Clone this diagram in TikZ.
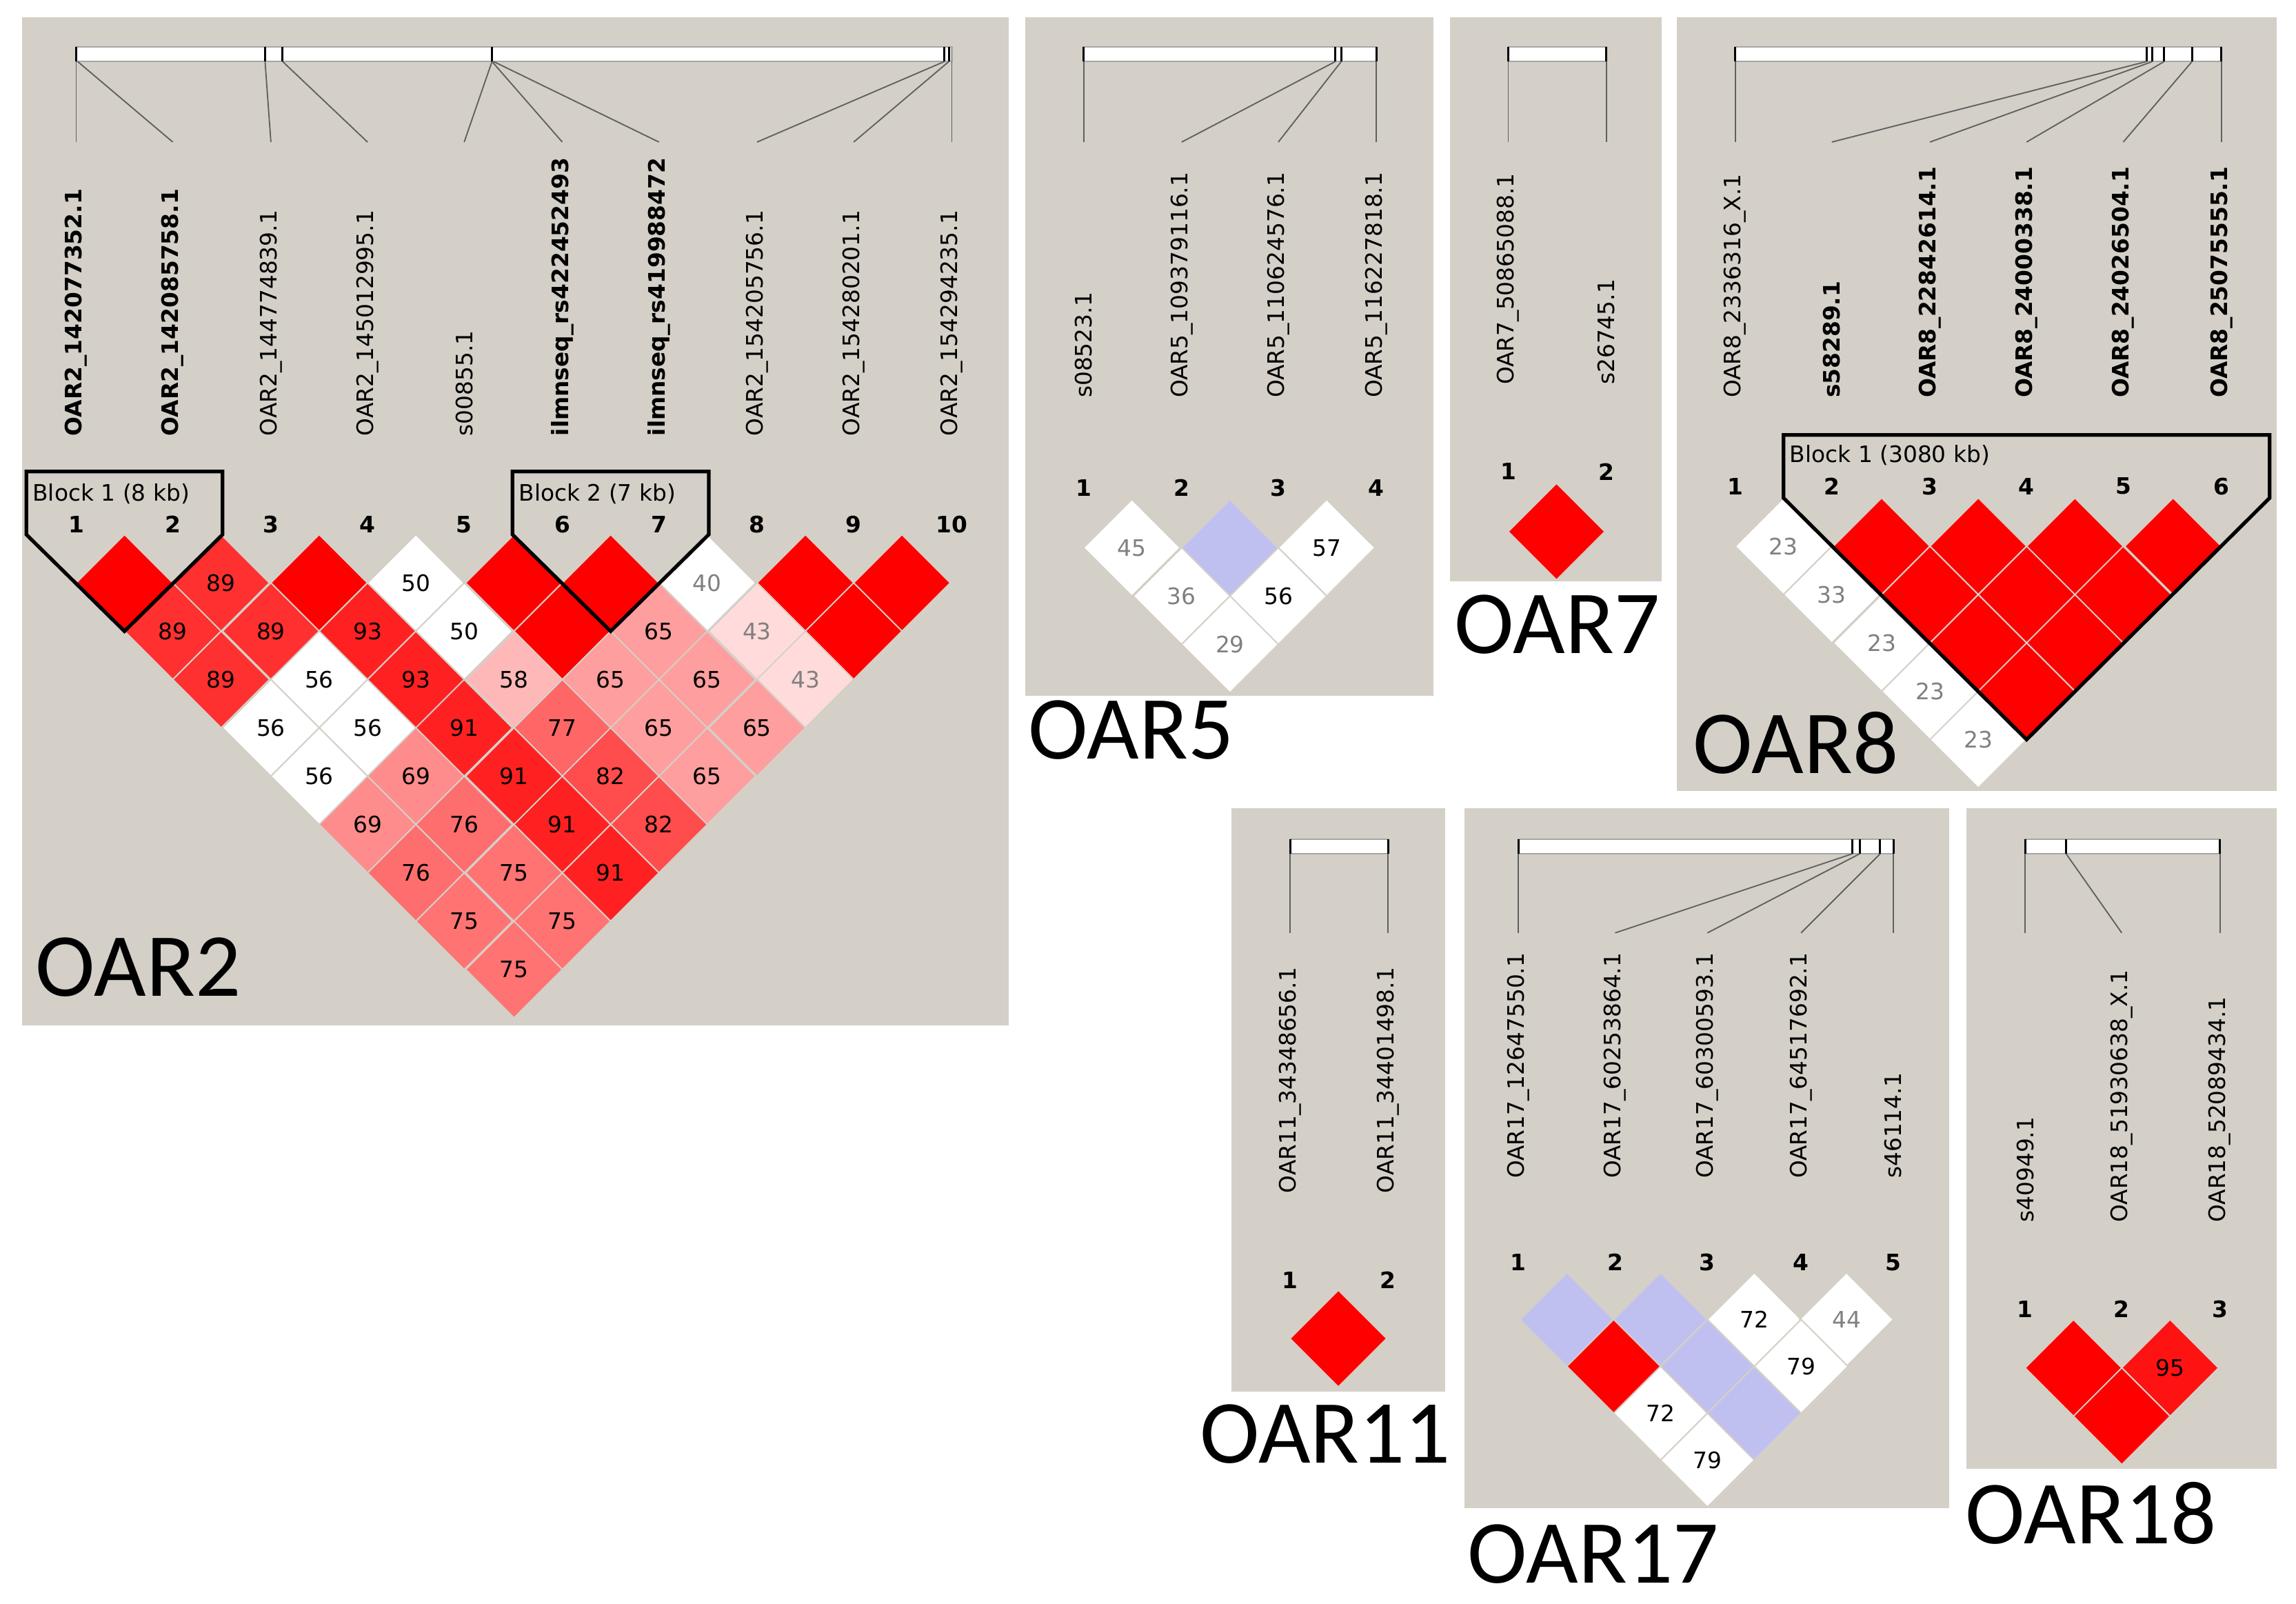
\documentclass[tikz,border=0pt]{standalone}
\usepackage{fontspec}
\setmainfont{DejaVu Sans}
\newfontfamily\carlitofont{Carlito}
\begin{document}
\definecolor{bg}{HTML}{D4D0C8}
\definecolor{blu}{HTML}{C0C0F0}
\definecolor{gtx}{HTML}{808080}
\tikzset{
 panel/.style={fill=bg,draw=none},
 bar/.style={fill=white,draw=gray!70,line width=0.6pt},
 div/.style={draw=black,line width=0.8pt},
 conn/.style={draw=gray!75!black,line width=0.5pt},
 mlab/.style={rotate=90,anchor=west,inner sep=0pt,font=\fontsize{8.8}{10}\selectfont},
 bmlab/.style={mlab,font=\fontsize{8.8}{10}\selectfont\bfseries},
 num/.style={font=\fontsize{8.8}{10}\selectfont\bfseries,inner sep=0pt},
 ctext/.style={font=\fontsize{8.8}{10}\selectfont,inner sep=0pt},
 blk/.style={draw=black,line width=1.4pt,line join=miter},
 pname/.style={font=\carlitofont\fontsize{35}{40}\selectfont,anchor=base west,inner sep=0pt},
}
\newcommand\ldc[6]{%
 \path[fill=#4,draw=bg,line width=0.5pt] (#1-#3,#2) -- (#1,#2-#3) -- (#1+#3,#2) -- (#1,#2+#3) -- cycle;
 \node[ctext,text=#6] at (#1,#2) {#5};}
\begin{tikzpicture}[x=0.02cm,y=-0.02cm]
\useasboundingbox (0,0) rectangle (1568,1095);
\fill[white] (0,0) rectangle (1568,1095);
% ================= OAR2
\path[panel] (15,12) rectangle (689,700);
\path[bar] (52,32) rectangle (650,42);
\foreach \p in {52,181,193,336,645,648} \draw[div] (\p,32) -- (\p,42);
\foreach \p/\x in {52/52,53/118,181/185,193/251,336/317,336/384,337/450,645/517,648/583,650/650}
 \draw[conn] (\p,42) -- (\x,97);
\node[bmlab] (a1) at (52,298) {OAR2\_142077352.1};
\node[bmlab] (a2) at (118,298) {OAR2\_142085758.1};
\node[mlab] (a3) at (185,298) {OAR2\_144774839.1};
\node[mlab] (a4) at (251,298) {OAR2\_145012995.1};
\node[mlab] (a5) at (317,298) {s00855.1};
\node[bmlab] (a6) at (384,298) {ilmnseq\_rs422452493};
\node[bmlab] (a7) at (450,298) {ilmnseq\_rs419988472};
\node[mlab] (a8) at (517,298) {OAR2\_154205756.1};
\node[mlab] (a9) at (583,298) {OAR2\_154280201.1};
\node[mlab] (a10) at (650,298) {OAR2\_154294235.1};
\foreach \i/\x in {1/52,2/118,3/185,4/251,5/317,6/384,7/450,8/517,9/583,10/650}
 \node[num] (an\i) at (\x,358) {\i};
\ldc{85}{398}{33}{red}{}{black}
\ldc{151}{398}{33}{red!81!white}{89}{black}
\ldc{218}{398}{33}{red}{}{black}
\ldc{284}{398}{33}{white}{50}{black}
\ldc{351}{398}{33}{red}{}{black}
\ldc{417}{398}{33}{red}{}{black}
\ldc{483}{398}{33}{white}{40}{gtx}
\ldc{550}{398}{33}{red}{}{black}
\ldc{616}{398}{33}{red}{}{black}
\ldc{118}{431}{33}{red!81!white}{89}{black}
\ldc{185}{431}{33}{red!81!white}{89}{black}
\ldc{251}{431}{33}{red!87!white}{93}{black}
\ldc{317}{431}{33}{white}{50}{black}
\ldc{384}{431}{33}{red}{}{black}
\ldc{450}{431}{33}{red!38!white}{65}{black}
\ldc{517}{431}{33}{red!14!white}{43}{gtx}
\ldc{583}{431}{33}{red}{}{black}
\ldc{151}{464}{33}{red!81!white}{89}{black}
\ldc{218}{464}{33}{white}{56}{black}
\ldc{284}{464}{33}{red!87!white}{93}{black}
\ldc{351}{464}{33}{red!28!white}{58}{black}
\ldc{417}{464}{33}{red!38!white}{65}{black}
\ldc{483}{464}{33}{red!38!white}{65}{black}
\ldc{550}{464}{33}{red!14!white}{43}{gtx}
\ldc{185}{497}{33}{white}{56}{black}
\ldc{251}{497}{33}{white}{56}{black}
\ldc{317}{497}{33}{red!87!white}{91}{black}
\ldc{384}{497}{33}{red!60!white}{77}{black}
\ldc{450}{497}{33}{red!38!white}{65}{black}
\ldc{517}{497}{33}{red!38!white}{65}{black}
\ldc{218}{530}{33}{white}{56}{black}
\ldc{284}{530}{33}{red!45!white}{69}{black}
\ldc{351}{530}{33}{red!87!white}{91}{black}
\ldc{417}{530}{33}{red!70!white}{82}{black}
\ldc{483}{530}{33}{red!38!white}{65}{black}
\ldc{251}{563}{33}{red!45!white}{69}{black}
\ldc{317}{563}{33}{red!57!white}{76}{black}
\ldc{384}{563}{33}{red!87!white}{91}{black}
\ldc{450}{563}{33}{red!70!white}{82}{black}
\ldc{284}{596}{33}{red!57!white}{76}{black}
\ldc{351}{596}{33}{red!55!white}{75}{black}
\ldc{417}{596}{33}{red!87!white}{91}{black}
\ldc{317}{629}{33}{red!55!white}{75}{black}
\ldc{384}{629}{33}{red!55!white}{75}{black}
\ldc{351}{662}{33}{red!55!white}{75}{black}
\draw[blk] (18,365) -- (18,322) -- (152,322) -- (152,365) -- (85,431) -- cycle;
\node[ctext,anchor=west] (b1) at (22,337) {Block 1 (8 kb)};
\draw[blk] (350,365) -- (350,322) -- (484,322) -- (484,365) -- (417,431) -- cycle;
\node[ctext,anchor=west] (b2) at (354,337) {Block 2 (7 kb)};
\node[pname] (n2) at (24,680) {OAR2};
% ================= OAR5
\path[panel] (700,12) rectangle (979,475);
\path[bar] (740,32) rectangle (940,42);
\foreach \p in {740,912,916,940} \draw[div] (\p,32) -- (\p,42);
\foreach \p/\x in {740/740,912/807,916/873,940/940} \draw[conn] (\p,42) -- (\x,97);
\node[mlab] (c1) at (740,272) {s08523.1};
\node[mlab] (c2) at (807,272) {OAR5\_109379116.1};
\node[mlab] (c3) at (873,272) {OAR5\_110624576.1};
\node[mlab] (c4) at (940,272) {OAR5\_116227818.1};
\foreach \i/\x in {1/740,2/807,3/873,4/940} \node[num] (cn\i) at (\x,333) {\i};
\ldc{773}{374}{33}{white}{45}{gtx}
\ldc{840}{374}{33}{blu}{}{black}
\ldc{906}{374}{33}{white}{57}{black}
\ldc{807}{407}{33}{white}{36}{gtx}
\ldc{873}{407}{33}{white}{56}{black}
\ldc{840}{440}{33}{white}{29}{gtx}
\node[pname] (n5) at (702,518) {OAR5};
% ================= OAR7
\path[panel] (990,12) rectangle (1135,397);
\path[bar] (1030,32) rectangle (1097,42);
\foreach \p in {1030,1097} \draw[div] (\p,32) -- (\p,42);
\foreach \p in {1030,1097} \draw[conn] (\p,42) -- (\p,97);
\node[mlab] (d1) at (1030,263) {OAR7\_50865088.1};
\node[mlab] (d2) at (1097,263) {s26745.1};
\node[num] (dn1) at (1030,322) {1};
\node[num] (dn2) at (1097,322) {2};
\ldc{1063}{363}{33}{red}{}{black}
\node[pname] (n7) at (993,446) {OAR7};
% ================= OAR8
\path[panel] (1145,12) rectangle (1555,540);
\path[bar] (1185,32) rectangle (1517,42);
\foreach \p in {1185,1466,1470,1478,1497,1517} \draw[div] (\p,32) -- (\p,42);
\foreach \p/\x in {1185/1185,1466/1251,1470/1318,1478/1384,1497/1450,1517/1517} \draw[conn] (\p,42) -- (\x,97);
\node[mlab] (e1) at (1185,272) {OAR8\_2336316\_X.1};
\node[bmlab] (e2) at (1251,272) {s58289.1};
\node[bmlab] (e3) at (1318,272) {OAR8\_22842614.1};
\node[bmlab] (e4) at (1384,272) {OAR8\_24000338.1};
\node[bmlab] (e5) at (1450,272) {OAR8\_24026504.1};
\node[bmlab] (e6) at (1517,272) {OAR8\_25075555.1};
\foreach \i/\x in {1/1185,2/1251,3/1318,4/1384,5/1450,6/1517} \node[num] (en\i) at (\x,332) {\i};
\ldc{1218}{373}{33}{white}{23}{gtx}
\ldc{1285}{373}{33}{red}{}{black}
\ldc{1351}{373}{33}{red}{}{black}
\ldc{1417}{373}{33}{red}{}{black}
\ldc{1484}{373}{33}{red}{}{black}
\ldc{1251}{406}{33}{white}{33}{gtx}
\ldc{1318}{406}{33}{red}{}{black}
\ldc{1384}{406}{33}{red}{}{black}
\ldc{1450}{406}{33}{red}{}{black}
\ldc{1285}{439}{33}{white}{23}{gtx}
\ldc{1351}{439}{33}{red}{}{black}
\ldc{1417}{439}{33}{red}{}{black}
\ldc{1318}{472}{33}{white}{23}{gtx}
\ldc{1384}{472}{33}{red}{}{black}
\ldc{1351}{505}{33}{white}{23}{gtx}
\draw[blk] (1218,340) -- (1218,297) -- (1550,297) -- (1550,340) -- (1384,505) -- cycle;
\node[ctext,anchor=west] (b3) at (1222,311) {Block 1 (3080 kb)};
\node[pname] (n8) at (1156,528) {OAR8};
% ================= OAR11
\path[panel] (841,552) rectangle (987,950);
\path[bar] (881,573) rectangle (948,583);
\foreach \p in {881,948} \draw[div] (\p,573) -- (\p,583);
\foreach \p in {881,948} \draw[conn] (\p,583) -- (\p,637);
\node[mlab] (f1) at (881,815) {OAR11\_34348656.1};
\node[mlab] (f2) at (948,815) {OAR11\_34401498.1};
\node[num] (fn1) at (881,874) {1};
\node[num] (fn2) at (948,874) {2};
\ldc{914}{914}{33}{red}{}{black}
\node[pname] (n11) at (819,999) {OAR11};
% ================= OAR17
\path[panel] (1000,552) rectangle (1331,1030);
\path[bar] (1037,573) rectangle (1293,583);
\foreach \p in {1037,1265,1270,1284,1293} \draw[div] (\p,573) -- (\p,583);
\foreach \p/\x in {1037/1037,1265/1103,1270/1166,1284/1230,1293/1293} \draw[conn] (\p,583) -- (\x,637);
\node[mlab] (g1) at (1037,805) {OAR17\_12647550.1};
\node[mlab] (g2) at (1103,805) {OAR17\_60253864.1};
\node[mlab] (g3) at (1166,805) {OAR17\_60300593.1};
\node[mlab] (g4) at (1230,805) {OAR17\_64517692.1};
\node[mlab] (g5) at (1293,805) {s46114.1};
\foreach \i/\x in {1/1037,2/1103,3/1166,4/1230,5/1293} \node[num] (gn\i) at (\x,862) {\i};
\ldc{1070}{901}{32}{blu}{}{black}
\ldc{1134}{901}{32}{blu}{}{black}
\ldc{1198}{901}{32}{white}{72}{black}
\ldc{1261}{901}{32}{white}{44}{gtx}
\ldc{1102}{933}{32}{red}{}{black}
\ldc{1166}{933}{32}{blu}{}{black}
\ldc{1230}{933}{32}{white}{79}{black}
\ldc{1134}{965}{32}{white}{72}{black}
\ldc{1198}{965}{32}{blu}{}{black}
\ldc{1166}{997}{32}{white}{79}{black}
\node[pname] (n17) at (1002,1081) {OAR17};
% ================= OAR18
\path[panel] (1343,552) rectangle (1555,1003);
\path[bar] (1383,573) rectangle (1516,583);
\foreach \p in {1383,1411,1516} \draw[div] (\p,573) -- (\p,583);
\foreach \p/\x in {1383/1383,1411/1449,1516/1516} \draw[conn] (\p,583) -- (\x,637);
\node[mlab] (h1) at (1383,835) {s40949.1};
\node[mlab] (h2) at (1449,835) {OAR18\_51930638\_X.1};
\node[mlab] (h3) at (1516,835) {OAR18\_52089434.1};
\foreach \i/\x in {1/1383,2/1449,3/1516} \node[num] (hn\i) at (\x,894) {\i};
\ldc{1416}{934}{33}{red}{}{black}
\ldc{1482}{934}{33}{red!93!white}{95}{black}
\ldc{1449}{967}{33}{red}{}{black}
\node[pname] (n18) at (1342,1054) {OAR18};
\end{tikzpicture}
\end{document}
